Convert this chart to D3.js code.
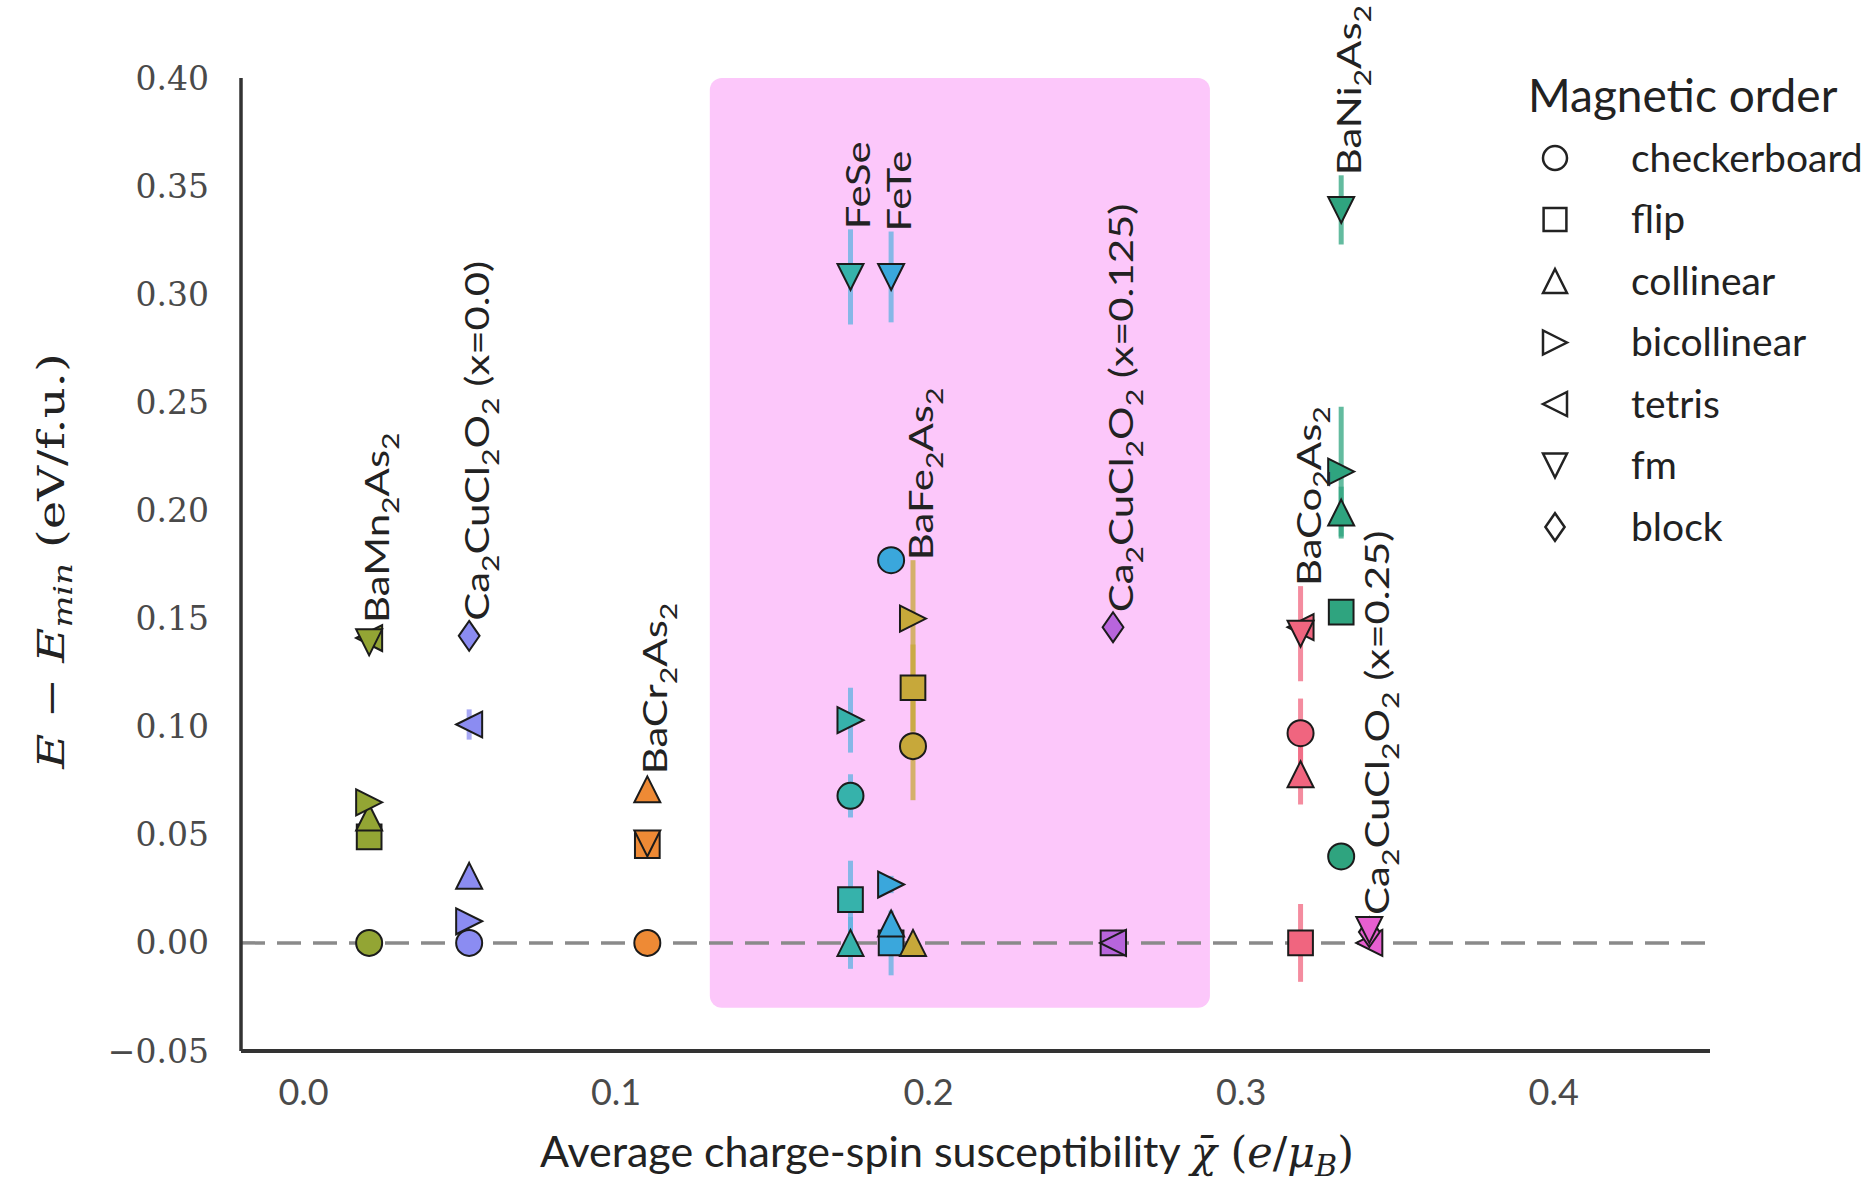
<!DOCTYPE html>
<html>
<head>
<meta charset="utf-8">
<script src="https://cdn.jsdelivr.net/npm/d3@7"></script>
<style>
  body { margin: 0; background: #fff; }
</style>
</head>
<body>
<svg id="chart" width="1872" height="1182"></svg>
<script>
// materials, their average susceptibility and colours
var materials = ["BaMn_2As_2", "Ca_2CuCl_2O_2 (x=0.0)", "BaCr_2As_2", "FeSe", "FeTe", "BaFe_2As_2",
                 "Ca_2CuCl_2O_2 (x=0.125)", "BaCo_2As_2", "BaNi_2As_2", "Ca_2CuCl_2O_2 (x=0.25)"];
var chi = [0.021, 0.053, 0.110, 0.175, 0.188, 0.195, 0.259, 0.319, 0.332, 0.341];
var colors = ["#93a534", "#8b8cf2", "#ee8a35", "#36b2ab", "#3aa7dc", "#c7a83a",
              "#b865dc", "#f0657f", "#2fa47f", "#e75fd0"];

// magnetic orders
var orders = ["checkerboard", "flip", "collinear", "bicollinear", "tetris", "fm", "block"];

// [order, E - Emin, spread]
var baMn2As2 = [["checkerboard", 0.000, 0], ["flip", 0.049, 0], ["collinear", 0.058, 0],
                ["bicollinear", 0.065, 0], ["tetris", 0.141, 0], ["fm", 0.139, 0]];
var ca2CuCl2O2x0 = [["checkerboard", 0.000, 0], ["bicollinear", 0.010, 0], ["collinear", 0.031, 0],
                    ["tetris", 0.101, 0.007], ["block", 0.142, 0]];
var baCr2As2 = [["checkerboard", 0.000, 0], ["flip", 0.045, 0], ["fm", 0.046, 0], ["collinear", 0.071, 0]];
var feSe = [["collinear", 0.000, 0.012], ["flip", 0.020, 0.018], ["checkerboard", 0.068, 0.010],
            ["bicollinear", 0.103, 0.015], ["fm", 0.308, 0.022]];
var feTe = [["flip", 0.000, 0.015], ["collinear", 0.009, 0], ["bicollinear", 0.027, 0.004],
            ["checkerboard", 0.177, 0], ["fm", 0.308, 0.021]];
var baFe2As2 = [["collinear", 0.000, 0], ["checkerboard", 0.091, 0.025], ["flip", 0.118, 0.020],
                ["bicollinear", 0.150, 0.027]];
var ca2CuCl2O2x125 = [["flip", 0.000, 0], ["tetris", 0.000, 0], ["block", 0.146, 0]];
var baCo2As2 = [["flip", 0.000, 0.018], ["collinear", 0.078, 0.014], ["checkerboard", 0.097, 0.016],
                ["tetris", 0.146, 0], ["fm", 0.143, 0.022]];
var baNi2As2 = [["checkerboard", 0.040, 0], ["flip", 0.153, 0], ["collinear", 0.199, 0.012],
                ["bicollinear", 0.218, 0.030], ["fm", 0.339, 0.016]];
var ca2CuCl2O2x25 = [["tetris", 0.000, 0], ["block", 0.005, 0], ["fm", 0.006, 0]];

var energies = [baMn2As2, ca2CuCl2O2x0, baCr2As2, feSe, feTe, baFe2As2,
                ca2CuCl2O2x125, baCo2As2, baNi2As2, ca2CuCl2O2x25];

var xTicks = [0.0, 0.1, 0.2, 0.3, 0.4];
var yTicks = [-0.05, 0.00, 0.05, 0.10, 0.15, 0.20, 0.25, 0.30, 0.35, 0.40];
var band = [0.13, 0.29, -0.03, 0.40];   // x0, x1, y0, y1 of the shaded region

// flatten to one point list
var points = [];
energies.forEach(function(list, i) {
    list.forEach(function(p) {
        points.push({m: i, order: p[0], e: p[1], err: p[2]});
    });
});

var svg = d3.select("#chart");

// Define the scales
var xScale = d3.scaleLinear().domain([-0.02, 0.45]).range([241, 1710]);
var yScale = d3.scaleLinear().domain([-0.05, 0.40]).range([1051, 78]);
var stretch = 1.27;   // rotated texts run long in the original

// marker shapes
function marker(order, r) {
    switch (order) {
        case "checkerboard": return d3.symbol(d3.symbolCircle, Math.PI * r * r)();
        case "flip": var s = r * 0.95; return "M" + (-s) + "," + (-s) + "h" + 2 * s + "v" + 2 * s + "h" + (-2 * s) + "Z";
        case "collinear": return "M0," + (-r) + "L" + r + "," + r + "L" + (-r) + "," + r + "Z";
        case "bicollinear": return "M" + r + ",0L" + (-r) + "," + (-r) + "L" + (-r) + "," + r + "Z";
        case "tetris": return "M" + (-r) + ",0L" + r + "," + (-r) + "L" + r + "," + r + "Z";
        case "fm": return "M0," + r + "L" + (-r) + "," + (-r) + "L" + r + "," + (-r) + "Z";
        case "block": return "M0," + (-r * 1.15) + "L" + (r * 0.8) + ",0L0," + (r * 1.15) + "L" + (-r * 0.8) + ",0Z";
    }
}

// text with _n subscripts
function richText(sel, str) {
    var parts = str.split(/_(\d)/);
    var back = false;
    parts.forEach(function(p, i) {
        if (p === "") return;
        if (i % 2 === 1) {
            var up = back ? -0.3 : 0;
            sel.append("tspan").attr("dy", (0.3 * 33 + up * 33) + "px").attr("font-size", "0.72em").text(p);
            back = true;
        } else {
            var sp = sel.append("tspan").text(p);
            if (back) sp.attr("dy", (-0.3 * 33) + "px");
            back = false;
        }
    });
}

// shaded band
svg.append("rect")
    .attr("x", xScale(band[0]))
    .attr("y", yScale(band[3]))
    .attr("width", xScale(band[1]) - xScale(band[0]))
    .attr("height", yScale(band[2]) - yScale(band[3]))
    .attr("rx", 12)
    .attr("fill", "#fcc7fa");

// zero line
svg.append("line")
    .attr("x1", xScale(-0.02))
    .attr("x2", xScale(0.45))
    .attr("y1", yScale(0))
    .attr("y2", yScale(0))
    .attr("stroke", "#8a8a8a")
    .attr("stroke-width", 3.5)
    .attr("stroke-dasharray", "24,12");

// spines
svg.append("line")
    .attr("x1", xScale(-0.02)).attr("x2", xScale(-0.02))
    .attr("y1", yScale(0.40)).attr("y2", yScale(-0.05))
    .attr("stroke", "#333").attr("stroke-width", 3.5);
svg.append("line")
    .attr("x1", xScale(-0.02)).attr("x2", xScale(0.45))
    .attr("y1", yScale(-0.05)).attr("y2", yScale(-0.05))
    .attr("stroke", "#333").attr("stroke-width", 4);

// tick labels
svg.selectAll(".ytick").data(yTicks).enter().append("text")
    .attr("x", 209)
    .attr("y", d => yScale(d))
    .attr("dy", "0.35em")
    .attr("text-anchor", "end")
    .attr("font-family", "DejaVu Serif")
    .attr("font-size", "33px")
    .attr("fill", "#4a4a4a")
    .text(d => d3.format(".2f")(d));

svg.selectAll(".xtick").data(xTicks).enter().append("text")
    .attr("x", d => xScale(d))
    .attr("y", 1105)
    .attr("text-anchor", "middle")
    .attr("font-family", "Lato")
    .attr("font-size", "36px")
    .attr("fill", "#4a4a4a")
    .text(d => d3.format(".1f")(d));

// axis titles
var xl = svg.append("text")
    .attr("x", 947)
    .attr("y", 1167)
    .attr("text-anchor", "middle")
    .attr("font-family", "Lato")
    .attr("font-size", "43px")
    .attr("fill", "#222");
xl.append("tspan").text("Average charge-spin susceptibility ");
xl.append("tspan").attr("font-family", "DejaVu Serif").attr("font-style", "italic").text("\u03c7\u0304");
xl.append("tspan").attr("font-family", "DejaVu Serif").text(" (");
xl.append("tspan").attr("font-family", "DejaVu Serif").attr("font-style", "italic").text("e");
xl.append("tspan").attr("font-family", "DejaVu Serif").text("/");
xl.append("tspan").attr("font-family", "DejaVu Serif").attr("font-style", "italic").text("\u03bc");
xl.append("tspan").attr("font-family", "DejaVu Serif").attr("font-style", "italic").attr("font-size", "0.7em").attr("dy", "0.3em").text("B");
xl.append("tspan").attr("font-family", "DejaVu Serif").attr("dy", "-0.21em").text(")");

var yl = svg.append("text")
    .attr("transform", "translate(64,561) rotate(-90) scale(1.3,1)")
    .attr("text-anchor", "middle")
    .attr("font-family", "DejaVu Serif")
    .attr("font-size", "37px")
    .attr("fill", "#222");
yl.append("tspan").attr("font-style", "italic").text("E");
yl.append("tspan").text(" \u2212 ");
yl.append("tspan").attr("font-style", "italic").text("E");
yl.append("tspan").attr("font-style", "italic").attr("font-size", "0.7em").attr("dy", "0.3em").text("min");
yl.append("tspan").attr("dy", "-0.21em").text(" (eV/f.u.)");

// spreads
svg.selectAll(".err").data(points.filter(p => p.err > 0)).enter().append("line")
    .attr("x1", d => xScale(chi[d.m]))
    .attr("x2", d => xScale(chi[d.m]))
    .attr("y1", d => yScale(d.e - d.err))
    .attr("y2", d => yScale(d.e + d.err))
    .attr("stroke", d => d.m === 3 || d.m === 4 ? "#5fb2e0" : colors[d.m])
    .attr("stroke-opacity", 0.75)
    .attr("stroke-width", 5);

// markers
svg.selectAll(".pt").data(points).enter().append("path")
    .attr("transform", d => "translate(" + xScale(chi[d.m]) + "," + yScale(d.e) + ")")
    .attr("d", d => marker(d.order, 13))
    .attr("fill", d => colors[d.m])
    .attr("stroke", "#1b1b1b")
    .attr("stroke-width", 2);

// material labels, starting just above the top of each material's marks
materials.forEach(function(name, i) {
    var top = d3.min(energies[i], p => yScale(p[1]) - Math.max(yScale(0) - yScale(p[2]), 15));
    var t = svg.append("text")
        .attr("transform", "translate(" + (xScale(chi[i]) + 20) + "," + top + ") rotate(-90) scale(" + stretch + ",1)")
        .attr("font-family", "Lato")
        .attr("font-size", "33px")
        .attr("fill", "#222");
    richText(t, name);
});

// legend
svg.append("text")
    .attr("x", 1528)
    .attr("y", 112)
    .attr("font-family", "Lato")
    .attr("font-size", "46px")
    .attr("fill", "#222")
    .text("Magnetic order");

var legendY = d3.scaleLinear().domain([0, orders.length - 1]).range([158, 527]);
orders.forEach(function(o, i) {
    svg.append("path")
        .attr("transform", "translate(1555," + legendY(i) + ")")
        .attr("d", marker(o, 12))
        .attr("fill", "none")
        .attr("stroke", "#222")
        .attr("stroke-width", 2.5);
    svg.append("text")
        .attr("x", 1631)
        .attr("y", legendY(i))
        .attr("dy", "0.35em")
        .attr("font-family", "Lato")
        .attr("font-size", "39px")
        .attr("fill", "#222")
        .text(o);
});
</script>
</body>
</html>
